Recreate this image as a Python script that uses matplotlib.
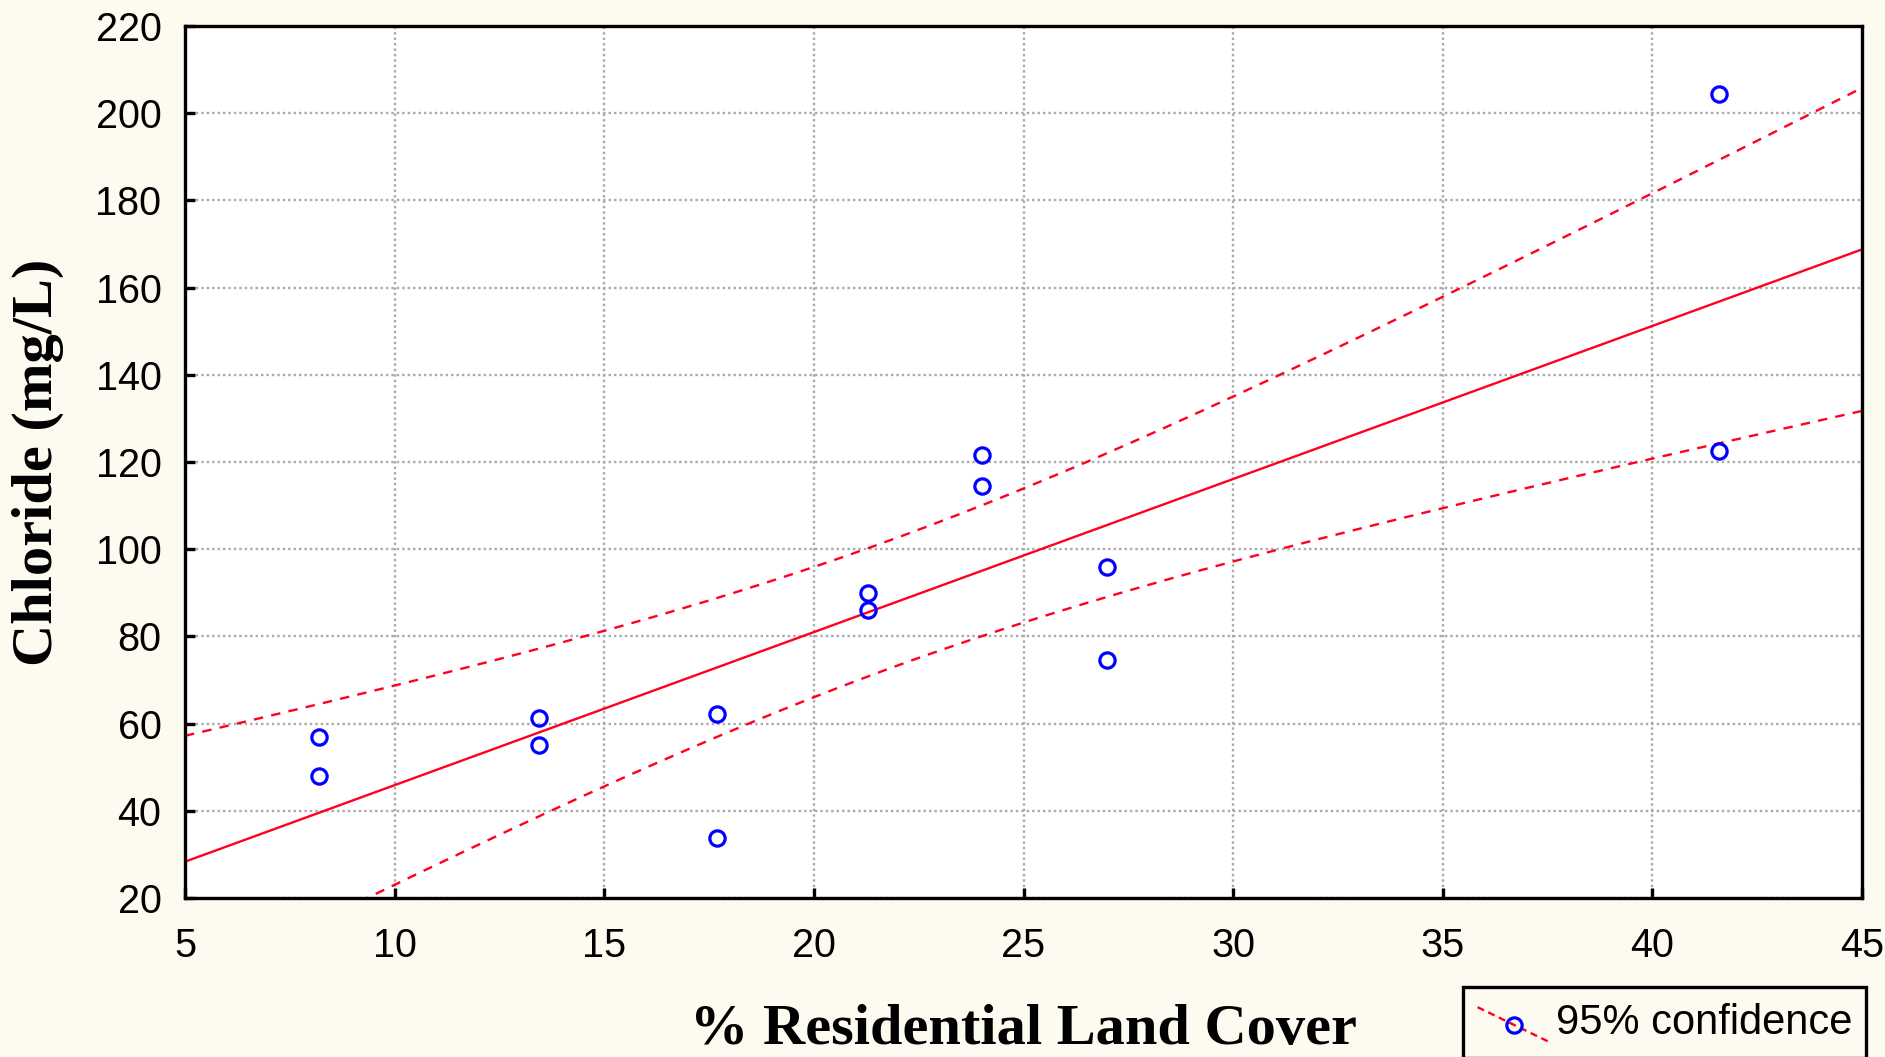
import numpy as np
import matplotlib
matplotlib.use("Agg")
import matplotlib.pyplot as plt
from matplotlib.lines import Line2D
from matplotlib.legend_handler import HandlerBase

# ---- data ----
residential_pct = [8.2, 8.2, 13.45, 13.45, 17.7, 17.7, 21.3, 21.3,
                   24.0, 24.0, 27.0, 27.0, 41.6, 41.6]
chloride_mgL = [57.0, 47.9, 61.2, 55.1, 62.3, 33.8, 89.9, 86.0,
                121.7, 114.5, 96.0, 74.7, 204.3, 122.5]
x_ticks = [5, 10, 15, 20, 25, 30, 35, 40, 45]
y_ticks = [20, 40, 60, 80, 100, 120, 140, 160, 180, 200, 220]
x_label = "% Residential Land Cover"
y_label = "Chloride (mg/L)"
legend_label = "95% confidence"
T_CRIT_95_DF12 = 2.1788  # Student t, two-sided 95%, n-2 = 12 dof

x = np.array(residential_pct)
y = np.array(chloride_mgL)
n = len(x)
slope, intercept = np.polyfit(x, y, 1)
resid = y - (slope * x + intercept)
s = np.sqrt(np.sum(resid ** 2) / (n - 2))
xm = x.mean()
sxx = np.sum((x - xm) ** 2)
xg = np.linspace(x_ticks[0], x_ticks[-1], 300)
yfit = slope * xg + intercept
half = T_CRIT_95_DF12 * s * np.sqrt(1.0 / n + (xg - xm) ** 2 / sxx)

BG = "#FDFAF0"
RED = "#FF0022"
W, H = 1885, 1057
L, R, T, B = 185, 1862, 26, 898
fig = plt.figure(figsize=(W / 100, H / 100), dpi=100, facecolor=BG)
ax = fig.add_axes([L / W, 1 - B / H, (R - L) / W, (B - T) / H])
ax.set_facecolor("white")

ax.grid(True, color="#A9A9A9", linestyle=(0, (1, 1.3)), linewidth=1.7, zorder=0)
ax.plot(xg, yfit, color=RED, lw=1.7, zorder=3)
ax.plot(xg, yfit + half, color=RED, lw=1.7, dashes=(4, 3.5), zorder=3)
ax.plot(xg, yfit - half, color=RED, lw=1.7, dashes=(4, 3.5), zorder=3)
ax.plot(x, y, linestyle="none", marker="o", markersize=11, markerfacecolor="none",
        markeredgecolor="#0000FF", markeredgewidth=2.3, zorder=4)

ax.set_xlim(x_ticks[0], x_ticks[-1])
ax.set_ylim(y_ticks[0], y_ticks[-1])
ax.set_xticks(x_ticks)
ax.set_yticks(y_ticks)
for sp in ax.spines.values():
    sp.set_linewidth(2.4)
    sp.set_color("black")
    sp.set_zorder(5)
ax.tick_params(axis="both", direction="in", length=7, width=2.4, labelsize=28.5,
               colors="black", top=False, right=False)
ax.tick_params(axis="x", pad=21)
ax.tick_params(axis="y", pad=17)
for lbl in ax.get_xticklabels() + ax.get_yticklabels():
    lbl.set_fontfamily("Liberation Sans")

ax.set_xlabel(x_label, fontsize=42, fontweight="bold", family="Liberation Serif", va="center")
ax.xaxis.set_label_coords(0.5, (B - 1030) / (B - T))
ax.set_ylabel(y_label, fontsize=42, fontweight="bold", family="Liberation Serif", va="center")
ax.yaxis.set_label_coords((38 - L) / (R - L), 0.5)


class DiagHandler(HandlerBase):
    def create_artists(self, legend, orig_handle, xdescent, ydescent, width, height,
                       fontsize, trans):
        x0, y0 = -xdescent, -ydescent
        ln = Line2D([x0, x0 + width], [y0 + height * 0.85, y0 - height * 0.1],
                    color=RED, lw=1.7, dashes=(3, 2), transform=trans)
        mk = Line2D([x0 + width / 2], [y0 + height * 0.375], marker="o", markersize=11,
                    markerfacecolor="none", markeredgecolor="#0000FF",
                    markeredgewidth=2.3, linestyle="none", transform=trans)
        return [ln, mk]


proxy = Line2D([], [])
leg = fig.legend([proxy], [legend_label], handler_map={Line2D: DiagHandler()},
                 loc="upper left", bbox_to_anchor=(1463 / W, 1 - 987 / H),
                 borderaxespad=0, frameon=True, fancybox=False,
                 prop={"family": "Liberation Sans", "size": 30},
                 handlelength=1.75, handleheight=1.0, handletextpad=0.12,
                 borderpad=0.35)
fr = leg.get_frame()
fr.set_edgecolor("black")
fr.set_linewidth(2.4)
fr.set_facecolor(BG)
fr.set_alpha(1)

fig.savefig("out.png", dpi=100, facecolor=BG)
